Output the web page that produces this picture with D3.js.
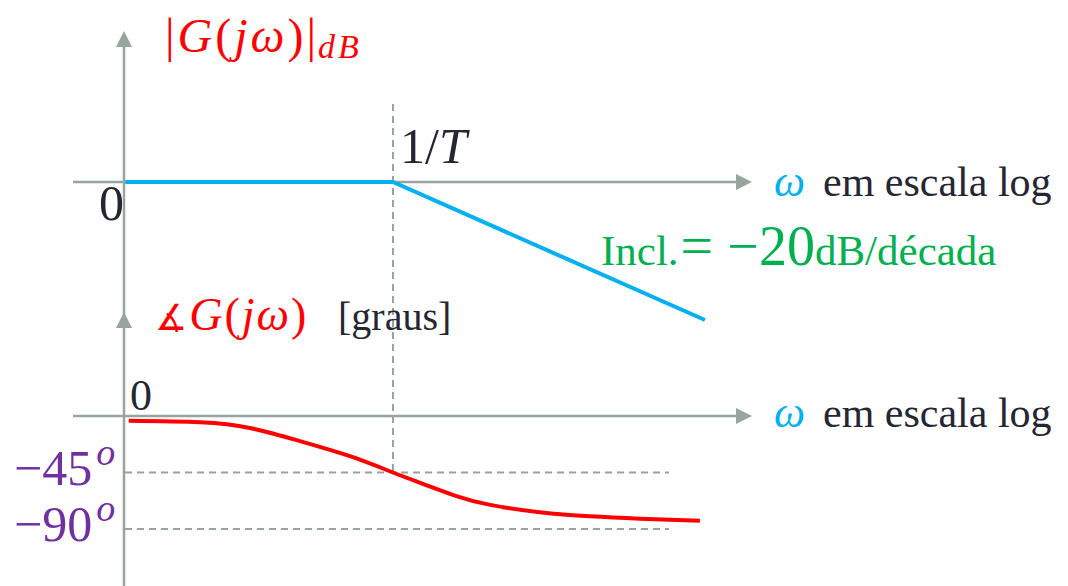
<!DOCTYPE html>
<html>
<head>
<meta charset="utf-8">
<script src="https://cdn.jsdelivr.net/npm/d3@7"></script>
<style>
  html, body { margin: 0; padding: 0; background: #fff; }
  svg { display: block; }
</style>
</head>
<body>
<svg id="chart" width="1068" height="586"></svg>
<script>
// Bode diagram of a first-order lag G(jω) = 1 / (1 + jωT)
// Frequencies are in units of the corner frequency 1/T.
const decadeSpan = [0.1, 10];

// Magnitude asymptote (dB)
const magOmega = [0.102, 1, 14.3];
const magDb = [0, 0, -23.1];

// Phase (degrees)
const phaseOmega = [0.105, 0.193, 0.295, 0.453, 0.693, 1, 1.29, 1.73, 2.29, 3.5, 5.37, 8.22, 13.7];
const phaseDeg = [-3.8, -5.0, -9.5, -20.0, -32.0, -45, -54, -64, -70.8, -76.6, -79.9, -81.8, -83.5];

// Phase reference levels
const phaseTicks = [-45, -90];
const phaseTickLabels = ["−45", "−90"];

const svg = d3.select("#chart");

const AXIS = "#98a59c";
const DARK = "#262633";
const RED = "#ff0000";
const BLUE = "#00b0f0";
const GREEN = "#00b050";
const PURPLE = "#7030a0";
const SERIF = "'Liberation Serif', 'DejaVu Serif', serif";

// Scales
const x = d3.scaleLog().domain(decadeSpan).range([123, 663]);
const yMag = d3.scaleLinear().domain([0, -20]).range([182, 301.5]);
const yPhase = d3.scaleLinear().domain([0, -90]).range([416, 529]);

const axisX0 = 73, axisX1 = 752, axisY = 124;

// Arrowhead helper
function arrowHead(tipX, tipY, dir) {
  const L = 16, W = 8;
  let pts;
  if (dir === "up") pts = [[tipX, tipY], [tipX - W, tipY + L], [tipX + W, tipY + L]];
  else pts = [[tipX, tipY], [tipX - L, tipY - W], [tipX - L, tipY + W]];
  svg.append("polygon").attr("points", pts.map(p => p.join(",")).join(" ")).attr("fill", AXIS);
}

// Reference guides (dashed)
const guides = svg.append("g").attr("stroke", AXIS).attr("stroke-width", 2).attr("stroke-dasharray", "7,5").attr("fill", "none");
guides.append("line")
  .attr("x1", x(1)).attr("x2", x(1))
  .attr("y1", 104).attr("y2", yPhase(-45));
guides.selectAll("line.lvl").data(phaseTicks).join("line").attr("class", "lvl")
  .attr("x1", 125).attr("x2", 669)
  .attr("y1", d => yPhase(d)).attr("y2", d => yPhase(d));

// Axes
const axes = svg.append("g").attr("stroke", AXIS).attr("stroke-width", 2.5);
axes.append("line").attr("x1", axisY).attr("x2", axisY).attr("y1", 586).attr("y2", 40);
axes.append("line").attr("x1", axisX0).attr("x2", axisX1 - 10).attr("y1", yMag(0)).attr("y2", yMag(0));
axes.append("line").attr("x1", axisX0).attr("x2", axisX1 - 10).attr("y1", yPhase(0)).attr("y2", yPhase(0));
arrowHead(axisY, 31, "up");
arrowHead(axisY, 312, "up");
arrowHead(axisX1, yMag(0), "right");
arrowHead(axisX1, yPhase(0), "right");

// Magnitude asymptote
const magLine = d3.line().x(d => x(d[0])).y(d => yMag(d[1]));
svg.append("path")
  .datum(d3.zip(magOmega, magDb))
  .attr("d", magLine)
  .attr("fill", "none").attr("stroke", BLUE).attr("stroke-width", 4);

// Phase curve
const phaseLine = d3.line().x(d => x(d[0])).y(d => yPhase(d[1])).curve(d3.curveNatural);
svg.append("path")
  .datum(d3.zip(phaseOmega, phaseDeg))
  .attr("d", phaseLine)
  .attr("fill", "none").attr("stroke", RED).attr("stroke-width", 4);

// ---- Text ----
function txt(xp, yp, size, color) {
  return svg.append("text").attr("x", xp).attr("y", yp)
    .attr("font-family", SERIF).attr("font-size", size).attr("fill", color);
}

// |G(jω)|dB
const t1 = txt(165, 52, 48, RED).attr("letter-spacing", 3);
t1.append("tspan").text("|");
t1.append("tspan").attr("font-style", "italic").text("G");
t1.append("tspan").text("(");
t1.append("tspan").attr("font-style", "italic").text("jω");
t1.append("tspan").text(")|");
t1.append("tspan").attr("font-style", "italic").attr("font-size", 34).attr("dx", -1).attr("dy", 6).text("dB");

// 1/T
const t2 = txt(400, 163, 50, DARK);
t2.append("tspan").text("1/");
t2.append("tspan").attr("font-style", "italic").text("T");

// Zero labels
txt(99, 220, 50, DARK).text("0");
txt(130, 410, 44, DARK).text("0");

// Frequency axis captions
[yMag(0) + 14, yPhase(0) + 11].forEach(yy => {
  txt(774, yy, 44, BLUE).attr("font-style", "italic").text("ω");
  txt(823, yy, 42, DARK).text("em escala log");
});

// Slope annotation
const t3 = txt(601, 265, 43, GREEN);
t3.append("tspan").text("Incl.");
t3.append("tspan").attr("font-size", 58).attr("dx", 2).text("=");
t3.append("tspan").attr("font-size", 56).attr("dx", 14).text("−20");
t3.append("tspan").text("dB/década");

// ∡G(jω) [graus]
const t4 = txt(155, 330, 46, RED).attr("letter-spacing", 2);
t4.append("tspan").attr("font-family", "'DejaVu Sans', sans-serif").attr("font-size", 36).text("∡");
t4.append("tspan").attr("font-style", "italic").text("G");
t4.append("tspan").text("(");
t4.append("tspan").attr("font-style", "italic").text("jω");
t4.append("tspan").text(")");
txt(338, 330, 40, DARK).text("[graus]");

// Phase level labels
svg.selectAll("g.plbl").data(phaseTicks).join("g").attr("class", "plbl")
  .each(function (d, i) {
    const t = d3.select(this).append("text")
      .attr("x", 14).attr("y", yPhase(d) + 12)
      .attr("font-family", SERIF).attr("font-size", 50).attr("fill", PURPLE);
    t.append("tspan").text(phaseTickLabels[i]);
    t.append("tspan").attr("font-style", "italic").attr("font-size", 38).attr("dx", 4).attr("dy", -20).text("o");
  });
</script>
</body>
</html>
